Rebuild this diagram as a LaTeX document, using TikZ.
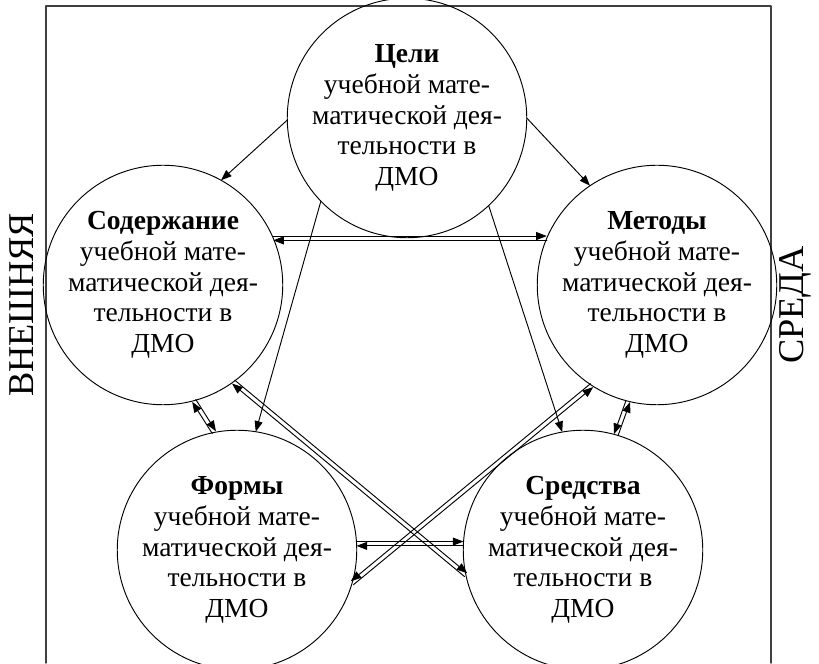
\documentclass[tikz,border=0pt]{standalone}
\usepackage{fontspec}
\setmainfont{Liberation Serif}
\usetikzlibrary{arrows.meta,calc}

\tikzset{
  circ/.style={draw, circle, minimum size=6.6cm, inner sep=0pt, outer sep=0pt,
    line width=0.8pt, align=center, font=\fontsize{23.5}{26.2}\selectfont},
  arr/.style={line width=0.8pt, -{Triangle[length=0.32cm,width=0.24cm]}},
  side/.style={rotate=90, font=\fontsize{31}{33}\selectfont}
}

% two parallel arrows between border points #1 and #2, #3 = half gap
\newcommand{\twoway}[3]{%
  \draw[arr] ($(#1)!#3!90:(#2)$) -- ($(#2)!#3!-90:(#1)$);
  \draw[arr] ($(#2)!#3!90:(#1)$) -- ($(#1)!#3!-90:(#2)$);
}

\newcommand{\body}{учебной мате-\\матической дея-\\тельности в\\ДМО}

\begin{document}
\begin{tikzpicture}[line cap=round,line join=round]
\useasboundingbox (0,0) rectangle (24.57,19.89);

% --- frame, open at the bottom ---
\coordinate (fl) at (1.38,0);
\coordinate (ft) at (23.13,19.71);
\coordinate (fr) at (23.13,0);
\draw[line width=1.2pt, black!75] (fl) |- (ft) -- (fr);

% side labels
\node[side] (outer) at (0.66,10.74) {ВНЕШНЯЯ};
\node[side] (env)   at (23.85,10.74) {СРЕДА};

% --- the five circles ---
\node[circ] (tseli) at (12.21,16.35) {\textbf{Цели}\\\body};
\node[circ] (soder) at (4.89,11.34)  {\textbf{Содержание}\\\body};
\node[circ] (metod) at (19.71,11.34) {\textbf{Методы}\\\body};
\node[circ] (form)  at (7.11,3.39)   {\textbf{Формы}\\\body};
\node[circ] (sred)  at (17.49,3.39)  {\textbf{Средства}\\\body};

% --- single arrows from the goals ---
\draw[arr] (tseli.181) -- (soder.61);
\draw[arr] (tseli.0)   -- (metod.124);
\draw[arr] (tseli.224) -- (form.81);
\draw[arr] (tseli.313) -- (sred.100);

% --- two-way links ---
\twoway{soder.23}{metod.157}{0.065cm}
\twoway{soder.285}{form.101}{0.065cm}
\twoway{metod.256}{sred.74}{-0.065cm}
\twoway{soder.306}{sred.192}{0.065cm}
\twoway{metod.237}{form.344}{-0.065cm}
\twoway{form.3}{sred.177}{0.065cm}
\end{tikzpicture}
\end{document}
